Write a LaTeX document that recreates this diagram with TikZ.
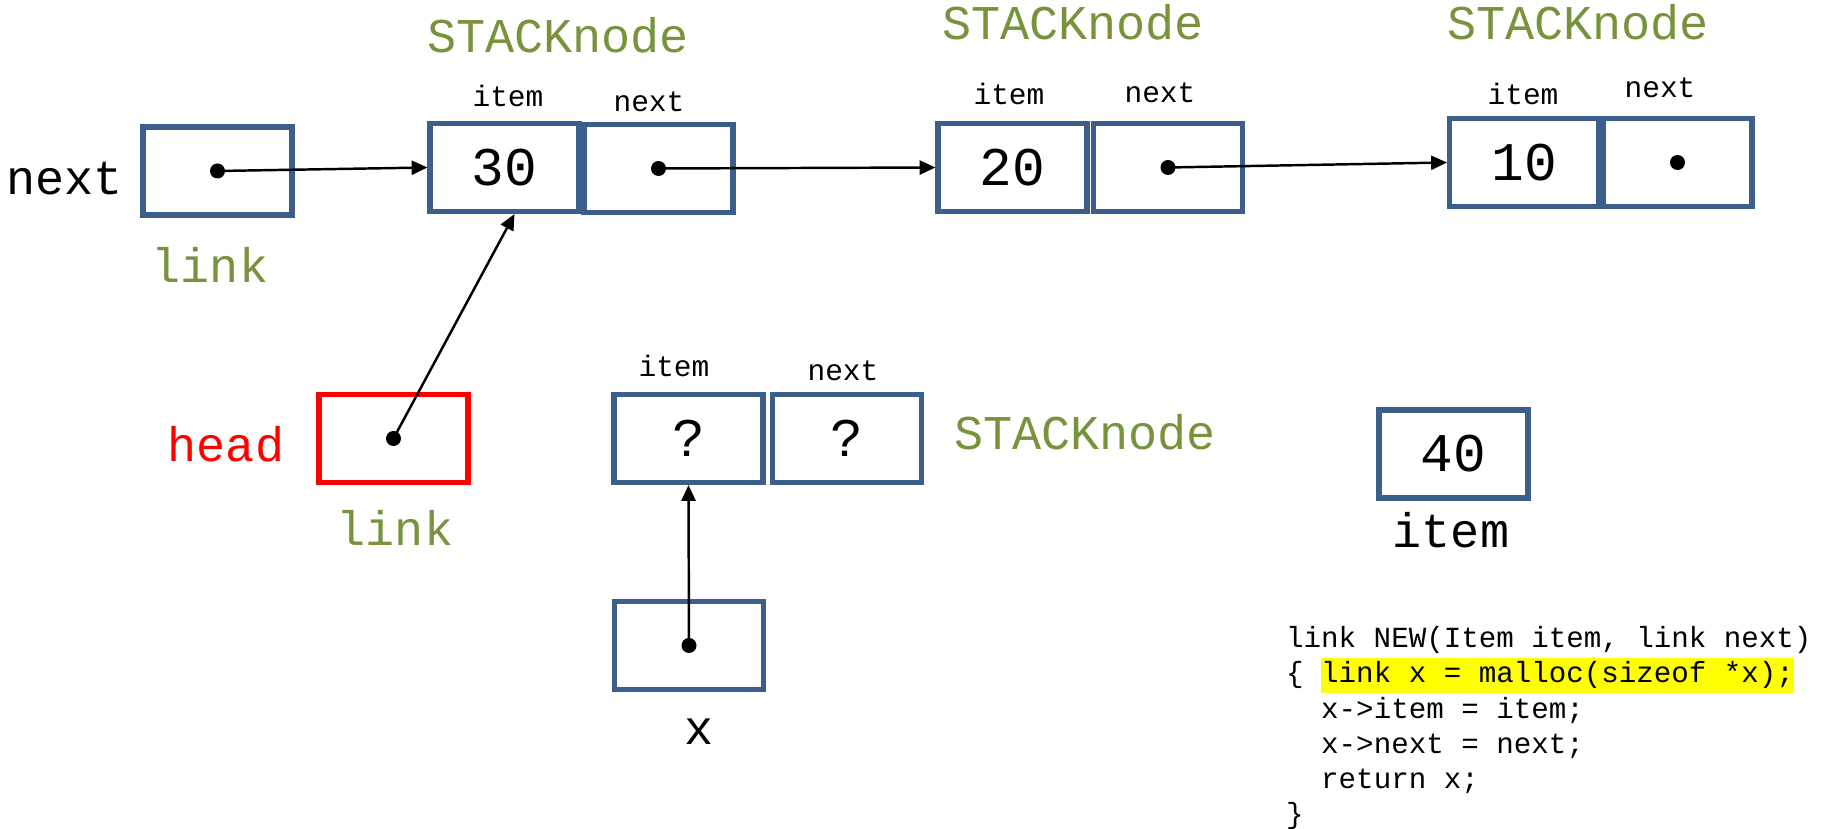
\documentclass[tikz,border=0pt]{standalone}
\usepackage{fontspec}
\setmonofont{Liberation Mono}
\usetikzlibrary{arrows.meta}
\definecolor{boxblue}{HTML}{3B5E8B}
\definecolor{olive}{HTML}{77933C}
\definecolor{hilite}{HTML}{FFFF00}
\setlength{\fboxsep}{0pt}

\begin{document}
\begin{tikzpicture}[y=-1cm,line width=0.7pt,>={Triangle[length=4.5pt,width=4pt]},
    cell/.style={draw=boxblue,line width=1.45pt,minimum width=1.49cm,minimum height=0.88cm,
      inner sep=0pt,font=\ttfamily\fontsize{15.5}{18}\selectfont},
    lbl/.style={inner sep=0pt,anchor=base,font=\ttfamily\fontsize{13.8}{16}\selectfont},
    typ/.style={lbl,text=olive},
    tag/.style={inner sep=0pt,anchor=base,font=\ttfamily\fontsize{8.4}{10}\selectfont}]
    \useasboundingbox(0,0)rectangle(18.23,8.29);
    \node[cell](linkA)at(2.175,1.71){};
    \node[cell](n1i)at(5.045,1.675){30};
    \node[cell](n1n)at(6.585,1.685){};
    \node[cell](n2i)at(10.125,1.675){20};
    \node[cell](n2n)at(11.68,1.675){};
    \node[cell](n3i)at(15.24,1.625){10};
    \node[cell](n3n)at(16.775,1.625){};
    \node[cell,draw=red](head)at(3.935,4.385){};
    \node[cell](xi)at(6.885,4.385){?};
    \node[cell](xn)at(8.47,4.385){?};
    \node[cell](xb)at(6.89,6.455){};
    \node[cell](b40)at(14.535,4.54){40};
    \node[lbl](nextlbl)at(0.645,1.95){next};
    \node[typ](linkA-t)at(2.10,2.83){link};
    \node[typ](n1-t)at(5.58,0.53){STACKnode};
    \node[typ](n2-t)at(10.73,0.40){STACKnode};
    \node[typ](n3-t)at(15.78,0.40){STACKnode};
    \node[typ](x-t)at(10.85,4.50){STACKnode};
    \node[tag](n1i-t)at(5.08,1.07){item};
    \node[tag](n1n-t)at(6.49,1.12){next};
    \node[tag](n2i-t)at(10.09,1.05){item};
    \node[tag](n2n-t)at(11.60,1.03){next};
    \node[tag](n3i-t)at(15.23,1.05){item};
    \node[tag](n3n-t)at(16.60,0.98){next};
    \node[tag](xi-t)at(6.74,3.77){item};
    \node[tag](xn-t)at(8.43,3.81){next};
    \node[lbl,text=red](headlbl)at(2.26,4.62){head};
    \node[typ](head-t)at(3.95,5.46){link};
    \node[lbl](xlbl)at(6.99,7.45){x};
    \node[lbl](itemlbl)at(14.51,5.48){item};
    \node[anchor=north west,inner sep=0pt,align=left,font=\ttfamily\fontsize{8.3}{10.05}\selectfont](code)
      at(12.85,6.25){link NEW(Item item, link next)\\\{ \colorbox{hilite}{\strut link x = malloc(sizeof *x);}\\
      \ \ x->item = item;\\\ \ x->next = next;\\\ \ return x;\\\}};
    \foreach \p in {linkA,n1n,n2n,n3n,head,xb}\fill(\p.center)circle(0.075);
    \draw[->](linkA.center)--(n1i.west);
    \draw[->](n1n.center)--(n2i.west);
    \draw[->](n2n.center)--(n3i.west);
    \draw[->](head.center)--([xshift=0.1cm]n1i.south);
    \draw[->](xb.center)--(xi.south);
  \end{tikzpicture}
\end{document}
